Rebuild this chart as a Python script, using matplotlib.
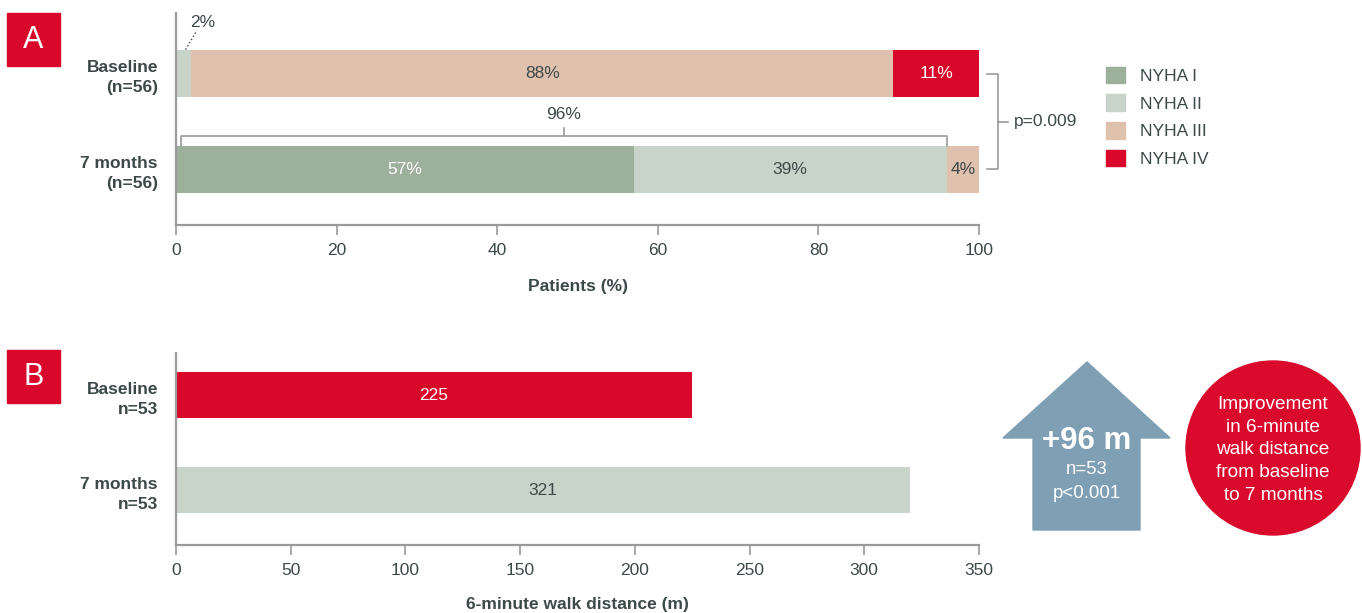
import matplotlib.pyplot as plt
import matplotlib.patches as mpatches
import numpy as np

# panel A: NYHA class distribution (% of patients)
groups_a = ['Baseline\n(n=56)', '7 months\n(n=56)']
nyha_classes = ['NYHA I', 'NYHA II', 'NYHA III', 'NYHA IV']
nyha_values = np.array([
    [0.0, 1.9, 87.4, 10.7],   # baseline
    [57.0, 39.0, 4.0, 0.0],   # 7 months
])
nyha_labels = [
    ['', '2%', '88%', '11%'],
    ['57%', '39%', '4%', ''],
]
nyha_colors = ['#9db09c', '#c8d3ca', '#e0c1ad', '#d9082a']
label_colors = ['white', '#3d4848', '#3d4848', 'white']

# panel B: 6-minute walk distance (m)
groups_b = ['Baseline\nn=53', '7 months\nn=53']
walk_values = [225, 320]
walk_labels = ['225', '321']
walk_colors = ['#d9082a', '#c8d3ca']

W, H = 1362, 613
DARK = '#3d4848'
GREY = '#9a9a9a'
FONT = ['Liberation Sans', 'DejaVu Sans']

plt.rcParams['font.family'] = FONT
plt.rcParams['text.color'] = DARK

fig = plt.figure(figsize=(W / 100, H / 100), dpi=100)


def px_axes(left, top, right, bottom):
    return fig.add_axes([left / W, 1 - bottom / H, (right - left) / W, (bottom - top) / H])


def style(ax):
    for s in ['top', 'right']:
        ax.spines[s].set_visible(False)
    for s in ['left', 'bottom']:
        ax.spines[s].set_color(GREY)
        ax.spines[s].set_linewidth(1.6)
    ax.tick_params(axis='x', length=7, width=1.2, color=GREY, labelsize=12.5, labelcolor=DARK, pad=6)
    ax.tick_params(axis='y', length=0, pad=13)
    for lab in ax.get_yticklabels():
        lab.set_fontweight('bold')
        lab.set_fontsize(12.5)
        lab.set_color(DARK)
        lab.set_linespacing(1.45)


# ---------- panel A ----------
axA = px_axes(176, 13, 979, 225)
ypos = np.arange(len(groups_a))
left = np.zeros(len(groups_a))
for k in range(len(nyha_classes)):
    vals = nyha_values[:, k]
    axA.barh(ypos, vals, left=left, height=0.484, color=nyha_colors[k], label=nyha_classes[k])
    for i in range(len(groups_a)):
        if vals[i] > 3:
            axA.text(left[i] + vals[i] / 2, ypos[i], nyha_labels[i][k], ha='center', va='center',
                     fontsize=12.5, color=label_colors[k])
    left = left + vals
axA.set_xlim(0, 100)
axA.set_ylim(1 + 55 / 95, -60 / 95)
axA.set_yticks(ypos)
axA.set_yticklabels(groups_a)
axA.set_xticks(np.arange(0, 101, 20))
axA.set_xlabel('Patients (%)', fontsize=12.5, fontweight='bold', labelpad=15, color=DARK)
style(axA)

# small 2% label with dotted leader
axA.plot([1.2, 2.6], [-0.25, -0.45], ls=':', color=DARK, lw=1, clip_on=False)
axA.text(3.3, -0.53, nyha_labels[0][1], ha='center', va='center', fontsize=12.5)

# 96% bracket
b0, b1 = 0.6, nyha_values[1, 0] + nyha_values[1, 1]
yb = 1 - 0.35
axA.plot([b0, b0, b1, b1], [yb + 0.1, yb, yb, yb + 0.1], color=GREY, lw=1.2, clip_on=False)
axA.plot([(b0 + b1) / 2] * 2, [yb, yb - 0.08], color=GREY, lw=1.2, clip_on=False)
axA.text((b0 + b1) / 2, yb - 0.22, '96%', ha='center', va='center', fontsize=12.5)

# p-value bracket
axA.plot([101, 102.4, 102.4, 101], [0, 0, 1, 1], color=GREY, lw=1.2, clip_on=False)
axA.plot([102.4, 103.6], [0.5, 0.5], color=GREY, lw=1.2, clip_on=False)
axA.text(104.3, 0.5, 'p=0.009', ha='left', va='center', fontsize=12.5)

handles = [mpatches.Patch(color=c) for c in nyha_colors]
fig.legend(handles, nyha_classes, loc='upper left', bbox_to_anchor=(1090 / W, 1 - 51 / H),
           frameon=False, handlelength=1.1, handleheight=1.1,
           labelspacing=0.6, handletextpad=0.9, prop={'size': 12.5})

# ---------- panel B ----------
axB = px_axes(176, 353, 979, 545)
yposb = np.arange(len(groups_b))
axB.barh(yposb, walk_values, height=0.484, color=walk_colors)
for i in range(len(groups_b)):
    axB.text(walk_values[i] / 2, yposb[i], walk_labels[i], ha='center', va='center', fontsize=12.5,
             color='white' if i == 0 else DARK)
axB.set_xlim(0, 350)
axB.set_ylim(1 + 55 / 95, -42 / 95)
axB.set_yticks(yposb)
axB.set_yticklabels(groups_b)
axB.set_xticks(np.arange(0, 351, 50))
axB.set_xlabel('6-minute walk distance (m)', fontsize=12.5, fontweight='bold', labelpad=14, color=DARK)
style(axB)

# ---------- overlay: panel letters, arrow, circle ----------
ov = fig.add_axes([0, 0, 1, 1])
ov.set_xlim(0, W)
ov.set_ylim(H, 0)
ov.axis('off')
ov.set_zorder(-1)

for letter, top in [('A', 13), ('B', 350)]:
    ov.add_patch(mpatches.Rectangle((7, top), 53, 53, color='#d9082a'))
    ov.text(33.5, top + 27, letter, ha='center', va='center', color='white', fontsize=22)

arrow = mpatches.Polygon([(1087, 362), (1170, 438), (1140, 438), (1140, 530),
                          (1033, 530), (1033, 438), (1003, 438)], closed=True, color='#7f9fb5')
ov.add_patch(arrow)
ov.text(1087, 441, '+96 m', ha='center', va='center', color='white', fontsize=22.5, fontweight='bold')
ov.text(1087, 469, 'n=53', ha='center', va='center', color='white', fontsize=13.4)
ov.text(1087, 494, 'p<0.001', ha='center', va='center', color='white', fontsize=13.4)

ov.add_patch(mpatches.Circle((1273, 448), 87, color='#d90a2c'))
ov.text(1273, 450, 'Improvement\nin 6-minute\nwalk distance\nfrom baseline\nto 7 months', ha='center',
        va='center', color='white', fontsize=13.7, linespacing=1.45)

fig.savefig('out.png', dpi=100)
